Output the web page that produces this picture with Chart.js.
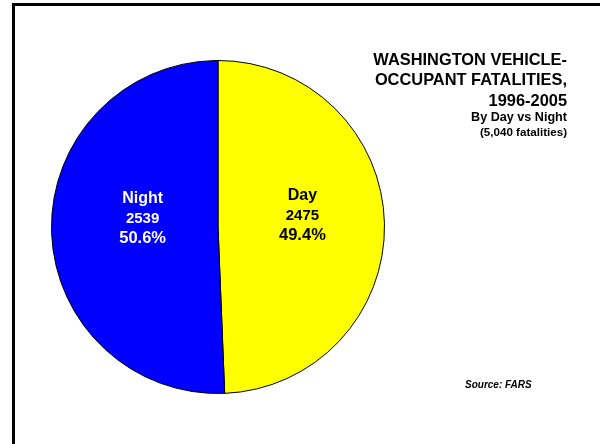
<!DOCTYPE html>
<html>
<head>
<meta charset="utf-8">
<script src="https://cdn.jsdelivr.net/npm/chart.js@4/dist/chart.umd.min.js"></script>
<style>
  html, body { margin: 0; padding: 0; background: #fff; overflow: hidden; }
  #wrap { position: relative; width: 600px; height: 444px; font-family: "Liberation Sans", Arial, sans-serif; }
  #frame { position: absolute; left: 12px; top: 3px; width: 700px; height: 600px; border-left: 3px solid #000; border-top: 3px solid #000; }
  #chart { position: absolute; left: 0; top: 0; }
  .title { position: absolute; right: 33px; text-align: right; font-weight: bold; color: #000; white-space: nowrap; }
  #t1 { top: 48.5px; font-size: 16.4px; line-height: 20.5px; }
  #t2 { top: 110px; font-size: 12.6px; line-height: 14px; }
  #t3 { top: 124.5px; font-size: 11.6px; line-height: 13px; }
  #src { position: absolute; left: 465px; top: 379px; font-size: 10px; font-weight: bold; font-style: italic; }
</style>
</head>
<body>
<div id="wrap">
  <div id="frame"></div>
  <canvas id="chart" width="600" height="444"></canvas>
  <div class="title" id="t1">WASHINGTON VEHICLE-<br>OCCUPANT FATALITIES,<br>1996-2005</div>
  <div class="title" id="t2">By Day vs Night</div>
  <div class="title" id="t3">(5,040 fatalities)</div>
  <div id="src">Source: FARS</div>
</div>
<script>
// dữ liệu
var labels = ['Day', 'Night'];
var values = [2475, 2539];
var colors = ['#FFFF00', '#0000FF'];
var textColors = ['#000000', '#FFFFFF'];

var total = values.reduce(function (a, b) { return a + b; }, 0);

// vẽ nhãn trong từng lát
var sliceLabels = {
    id: 'sliceLabels',
    afterDatasetsDraw: function (chart) {
        var ctx = chart.ctx;
        var meta = chart.getDatasetMeta(0);
        meta.data.forEach(function (arc, i) {
            var p = arc.getProps(['x', 'y', 'startAngle', 'endAngle', 'outerRadius'], true);
            var mid = (p.startAngle + p.endAngle) / 2;
            var x = p.x + Math.cos(mid) * p.outerRadius * 0.48 + 4.5;
            var y = p.y + Math.sin(mid) * p.outerRadius * 0.48 - 10;
            var pct = (values[i] / total * 100).toFixed(1) + '%';
            ctx.save();
            ctx.fillStyle = textColors[i];
            ctx.textAlign = 'center';
            ctx.textBaseline = 'middle';
            ctx.font = 'bold 16px "Liberation Sans", Arial, sans-serif';
            ctx.fillText(labels[i], x, y - 20);
            ctx.font = 'bold 15px "Liberation Sans", Arial, sans-serif';
            ctx.fillText(String(values[i]), x, y);
            ctx.font = 'bold 16.5px "Liberation Sans", Arial, sans-serif';
            ctx.fillText(pct, x, y + 20);
            ctx.restore();
        });
    }
};

new Chart(document.getElementById('chart'), {
    type: 'pie',
    data: {
        labels: labels,
        datasets: [{
            data: values,
            backgroundColor: colors,
            borderColor: '#000000',
            borderWidth: 1
        }]
    },
    options: {
        responsive: false,
        animation: false,
        layout: { padding: { left: 51, top: 60, right: 215, bottom: 50 } },
        plugins: {
            legend: { display: false },
            tooltip: { enabled: false }
        }
    },
    plugins: [sliceLabels]
});
</script>
</body>
</html>
